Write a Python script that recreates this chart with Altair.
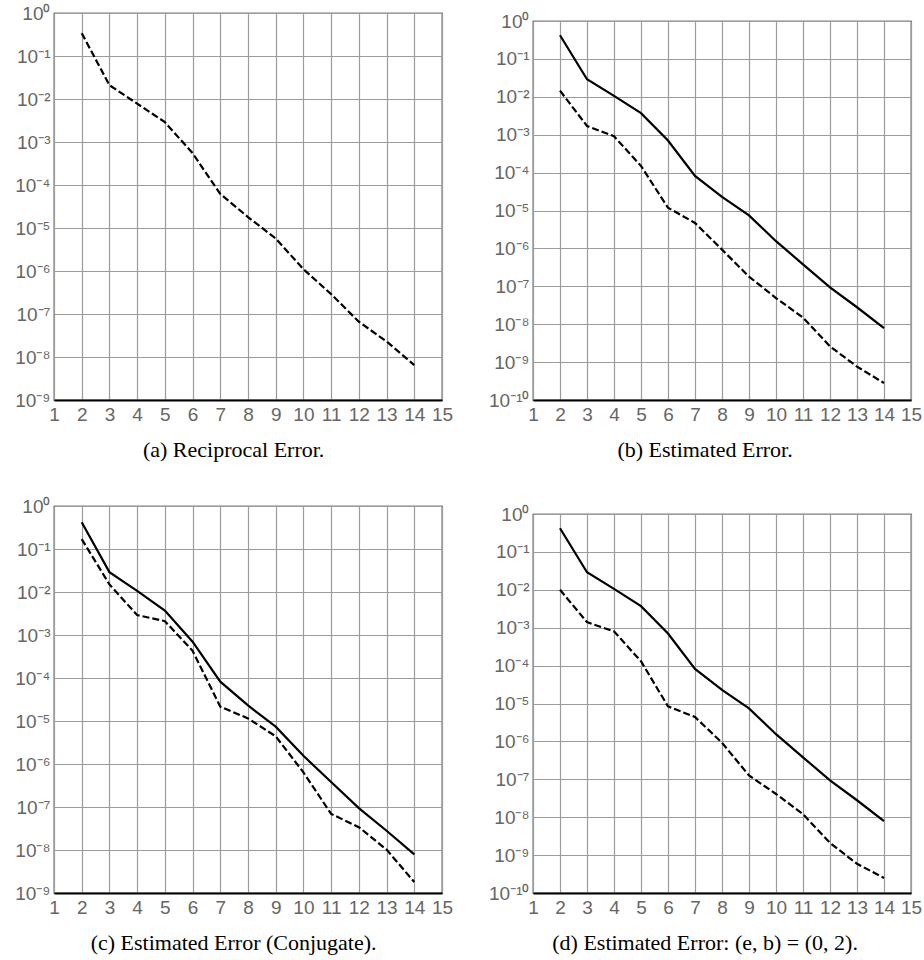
import altair as alt
import pandas as pd

# ---------------- data ----------------
n_values = [2, 3, 4, 5, 6, 7, 8, 9, 10, 11, 12, 13, 14]

# (a) reciprocal error (dashed)
reciprocal_err = [0.34, 0.021, 0.0078, 0.0029, 5.5e-4, 6.2e-5, 1.8e-5, 5.7e-6,
                  1.1e-6, 2.9e-7, 6.6e-8, 2.3e-8, 6.5e-9]

# solid curve shared by (b), (c), (d)
true_err = [0.42, 0.029, 0.0106, 0.0037, 7.0e-4, 8.2e-5, 2.3e-5, 7.4e-6,
            1.55e-6, 3.8e-7, 9.4e-8, 2.8e-8, 7.9e-9]

# (b) estimated error (dashed)
estimated_err = [0.0145, 1.7e-3, 9.1e-4, 1.5e-4, 1.18e-5, 4.7e-6, 9.3e-7,
                 1.8e-7, 4.9e-8, 1.5e-8, 2.6e-9, 7.6e-10, 2.8e-10]

# (c) estimated error, conjugate (dashed)
conjugate_err = [0.17, 0.015, 0.0029, 0.0021, 4.3e-4, 2.15e-5, 1.15e-5, 4.4e-6,
                 6.4e-7, 6.9e-8, 3.4e-8, 1.02e-8, 1.8e-9]

# (d) estimated error (e,b)=(0,2) (dashed)
eb02_err = [0.010, 1.4e-3, 8.0e-4, 1.3e-4, 8.4e-6, 4.4e-6, 9.2e-7, 1.26e-7,
            4.1e-8, 1.2e-8, 2.1e-9, 5.9e-10, 2.5e-10]

x_ticks = [1, 2, 3, 4, 5, 6, 7, 8, 9, 10, 11, 12, 13, 14, 15]
y_ticks = [1, 1e-1, 1e-2, 1e-3, 1e-4, 1e-5, 1e-6, 1e-7, 1e-8, 1e-9, 1e-10]
y_tick_labels = ["10⁰", "10⁻¹", "10⁻²", "10⁻³", "10⁻⁴", "10⁻⁵",
                 "10⁻⁶", "10⁻⁷", "10⁻⁸", "10⁻⁹", "10⁻¹⁰"]

captions = ["(a) Reciprocal Error.",
            "(b) Estimated Error.",
            "(c) Estimated Error (Conjugate).",
            "(d) Estimated Error: (e, b) = (0, 2)."]

LABEL_FONT = "Liberation Sans"
LABEL_COLOR = "#666666"
GRID_COLOR = "#9c9c9c"

label_expr = "[" + ",".join("'%s'" % s for s in y_tick_labels) + "][round(-log(datum.value)/LN10)]"


def panel(dashed, solid, n_dec, width, height, caption, top_gap=None):
    ticks = y_ticks[: n_dec + 1]
    ymin = ticks[-1]
    xs = alt.X("n:Q",
               scale=alt.Scale(domain=[1, 15], nice=False, zero=False),
               axis=alt.Axis(values=x_ticks, format="d", title=None, grid=True,
                             gridColor=GRID_COLOR, gridWidth=1.2, ticks=False,
                             domain=True, domainColor="black", domainWidth=2,
                             labelFont=LABEL_FONT, labelFontSize=19,
                             labelColor=LABEL_COLOR, labelPadding=5,
                             labelFlush=False, labelOverlap=False))
    ys = alt.Y("err:Q",
               scale=alt.Scale(type="log", domain=[ymin, 1], nice=False),
               axis=alt.Axis(values=ticks, labelExpr=label_expr, title=None,
                             grid=True, gridColor=GRID_COLOR, gridWidth=1.2,
                             ticks=False, domain=False,
                             labelFont=LABEL_FONT, labelFontSize=19,
                             labelColor=LABEL_COLOR, labelPadding=4,
                             labelFlush=False, labelOverlap=False))
    layers = []
    if solid is not None:
        df_s = pd.DataFrame({"n": n_values, "err": solid})
        layers.append(alt.Chart(df_s).mark_line(color="black", strokeWidth=2.2)
                      .encode(x=xs, y=ys))
    df_d = pd.DataFrame({"n": n_values, "err": dashed})
    layers.append(alt.Chart(df_d).mark_line(color="black", strokeWidth=2.2,
                                            strokeDash=[7, 3])
                  .encode(x=xs, y=ys))
    if top_gap:
        spacer = alt.Chart(pd.DataFrame({"t": ["."]})).mark_text(
            color="white", baseline="top", align="left", fontSize=2
        ).encode(x=alt.value(2), y=alt.value(-top_gap), text="t:N")
        layers.append(spacer)
    return alt.layer(*layers).properties(
        width=width, height=height,
        title=alt.TitleParams(text=caption, orient="bottom", anchor="middle",
                              frame="bounds", font="Liberation Serif", fontSize=22,
                              fontWeight="normal", color="black", offset=16)
    )


def blank(height):
    return alt.Chart(pd.DataFrame({"v": [0]})).mark_rule(opacity=0).encode(
        x=alt.value(0), x2=alt.value(1), y=alt.value(0)
    ).properties(width=10, height=height, view=alt.ViewBackground(stroke=None))


pa = panel(reciprocal_err, None, 9, 388, 387, captions[0], 12)
pb = panel(estimated_err, true_err, 10, 378, 379, captions[1])
pc = panel(conjugate_err, true_err, 9, 388, 387, captions[2])
pd_ = panel(eb02_err, true_err, 10, 378, 379, captions[3])

col1 = alt.vconcat(pa, blank(106), pc, spacing=0, bounds="flush")
col2 = alt.vconcat(blank(8), pb, blank(114), pd_, spacing=0, bounds="flush")

chart = alt.hconcat(col1, col2, spacing=33).properties(
    padding={"left": 14, "top": 0, "right": 0, "bottom": 0},
    background="white",
).configure_view(stroke="black", strokeWidth=1.2)

chart.save("out.html", embed_options={"renderer": "svg", "actions": False})
